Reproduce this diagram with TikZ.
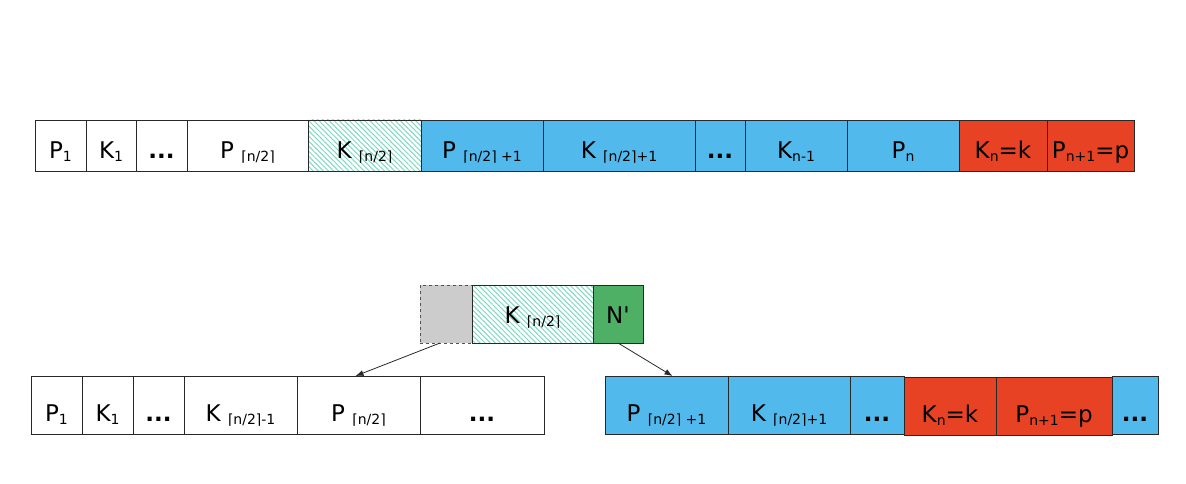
\documentclass[tikz,border=0pt]{standalone}
\usepackage{fontspec}
\setmainfont{DejaVu Sans}
\usetikzlibrary{patterns.meta,arrows.meta}
\definecolor{cellblue}{RGB}{82,185,236}
\definecolor{cellred}{RGB}{232,66,36}
\definecolor{cellgreen}{RGB}{78,176,100}
\definecolor{cellgray}{RGB}{204,204,204}
\definecolor{hatchcol}{RGB}{125,218,192}
\definecolor{edge}{RGB}{40,40,40}
% subscript set a little below the baseline
\newcommand{\sub}[1]{\raisebox{-3.5pt}{\fontsize{14}{14}\selectfont #1}}
\newcommand{\ceilhalf}{⌈n/2⌉}
\newcommand{\bdots}{{\bfseries ...}}
\begin{document}
\begin{tikzpicture}[x=1pt,y=-1pt,
  cell/.style={draw=edge, line width=0.9pt, anchor=north west, inner sep=0pt, outer sep=0pt,
    font=\fontsize{23}{23}\selectfont, text depth=0pt},
  toprow/.style={cell, minimum height=51pt, text height=25pt},
  midrow/.style={cell, minimum height=58pt, text height=18pt},
  lowrow/.style={cell, minimum height=58pt, text height=32pt},
  blue/.style={fill=cellblue},
  red/.style={fill=cellred},
  green/.style={fill=cellgreen},
  hatched/.style={pattern={Lines[angle=-45,distance=3.6pt,line width=1pt]}, pattern color=hatchcol},
  ghost/.style={fill=cellgray, draw=edge!80, dashed},
  link/.style={draw=edge, line width=0.8pt, -{Latex[length=8pt,width=6pt]}}
]
\useasboundingbox (0,0) rectangle (1186,484);

% top row: full node
\node[toprow, minimum width=51pt] (t1) at (35,120) {P\sub{1}};
\node[toprow, minimum width=50pt] (t2) at (86,120) {K\sub{1}};
\node[toprow, minimum width=51pt] (t3) at (136,120) {\bdots};
\node[toprow, minimum width=121pt] (t4) at (187,120) {P \sub{\ceilhalf}};
\node[toprow, hatched, minimum width=113pt] (t5) at (308,120) {K \sub{\ceilhalf}};
\node[toprow, blue, minimum width=122pt] (t6) at (421,120) {P \sub{\ceilhalf{} +1}};
\node[toprow, blue, minimum width=152pt] (t7) at (543,120) {K \sub{\ceilhalf+1}};
\node[toprow, blue, minimum width=50pt] (t8) at (695,120) {\bdots};
\node[toprow, blue, minimum width=102pt] (t9) at (745,120) {K\sub{n-1}};
\node[toprow, blue, minimum width=112pt] (t10) at (847,120) {P\sub{n}};
\node[toprow, red, minimum width=88pt] (t11) at (959,120) {K\sub{n}=k};
\node[toprow, red, minimum width=87pt] (t12) at (1047,120) {P\sub{n+1}=p};

% middle: key pushed up to the parent
\node[midrow, ghost, minimum width=52pt] (m1) at (420,285) {};
\node[midrow, hatched, minimum width=121pt] (m2) at (472,285) {K \sub{\ceilhalf}};
\node[midrow, green, minimum width=50pt] (m3) at (593,285) {N\textquotesingle};

% bottom left: left half
\node[lowrow, minimum width=51pt] (b1) at (31,376) {P\sub{1}};
\node[lowrow, minimum width=51pt] (b2) at (82,376) {K\sub{1}};
\node[lowrow, minimum width=51pt] (b3) at (133,376) {\bdots};
\node[lowrow, minimum width=113pt] (b4) at (184,376) {K \sub{\ceilhalf-1}};
\node[lowrow, minimum width=123pt] (b5) at (297,376) {P \sub{\ceilhalf}};
\node[lowrow, minimum width=124pt] (b6) at (420,376) {\bdots};

% bottom right: new node N'
\node[lowrow, blue, minimum width=123pt] (r1) at (605,376) {P \sub{\ceilhalf{} +1}};
\node[lowrow, blue, minimum width=122pt] (r2) at (728,376) {K \sub{\ceilhalf+1}};
\node[lowrow, blue, minimum width=54pt] (r3) at (850,376) {\bdots};
\node[lowrow, red, minimum width=92pt] (r4) at (904,377) {K\sub{n}=k};
\node[lowrow, red, minimum width=116pt] (r5) at (996,377) {P\sub{n+1}=p};
\node[lowrow, blue, minimum width=46pt] (r6) at (1112,376) {\bdots};

% pointers to the two halves
\draw[link] ([xshift=-6pt]m1.south) -- ([xshift=-3pt]b5.north);
\draw[link] (m3.south) -- ([xshift=6pt]r1.north);
\end{tikzpicture}
\end{document}
